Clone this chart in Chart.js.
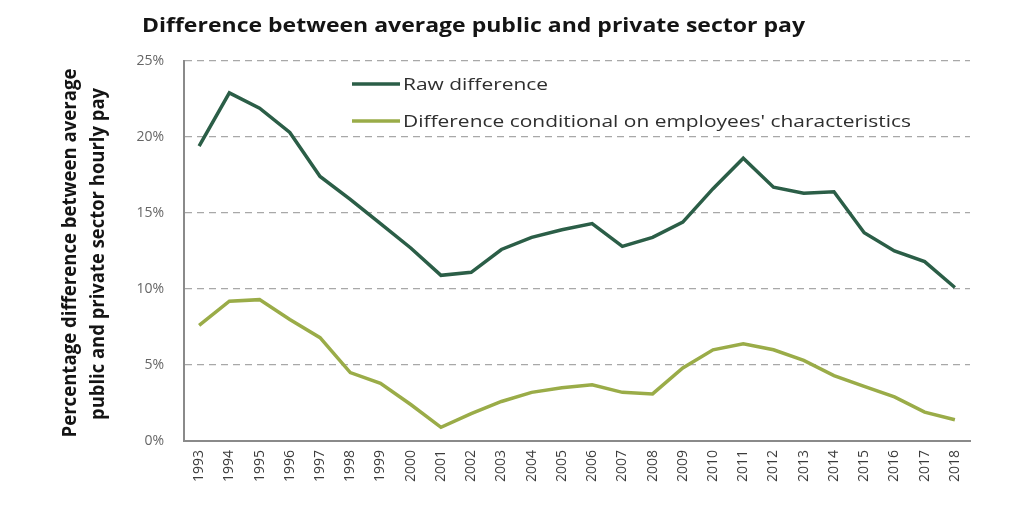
<!DOCTYPE html>
<html>
<head>
<meta charset="utf-8">
<script src="https://cdn.jsdelivr.net/npm/chart.js@4/dist/chart.umd.min.js"></script>
<style>
  html, body { margin: 0; padding: 0; background: #ffffff; }
  #wrap { width: 1024px; height: 512px; }
</style>
</head>
<body>
<div id="wrap"><canvas id="c" width="1024" height="512"></canvas></div>
<script>
const years = ['1993','1994','1995','1996','1997','1998','1999','2000','2001','2002','2003','2004','2005','2006','2007','2008','2009','2010','2011','2012','2013','2014','2015','2016','2017','2018'];
const rawDifference = [19.4, 22.9, 21.9, 20.3, 17.4, 15.9, 14.3, 12.7, 10.9, 11.1, 12.6, 13.4, 13.9, 14.3, 12.8, 13.4, 14.4, 16.6, 18.6, 16.7, 16.3, 16.4, 13.7, 12.5, 11.8, 10.1];
const conditionalDifference = [7.6, 9.2, 9.3, 8.0, 6.8, 4.5, 3.8, 2.4, 0.9, 1.8, 2.6, 3.2, 3.5, 3.7, 3.2, 3.1, 4.8, 6.0, 6.4, 6.0, 5.3, 4.3, 3.6, 2.9, 1.9, 1.4];
const seriesLabels = ['Raw difference', "Difference conditional on employees' characteristics"];
const yTickValues = [0, 5, 10, 15, 20, 25];
const chartTitle = 'Difference between average public and private sector pay';
const yTitleLines = ['Percentage difference between average', 'public and private sector hourly pay'];

function fitText(ctx, text, x, y, target) {
  const w = ctx.measureText(text).width;
  const sx = target ? target / w : 1;
  ctx.save();
  ctx.translate(x, y);
  ctx.scale(sx, 1);
  ctx.fillText(text, 0, 0);
  ctx.restore();
}

const textPlugin = {
  id: 'textPlugin',
  afterDraw(chart) {
    const ctx = chart.ctx;
    // Title
    ctx.save();
    ctx.fillStyle = '#141414';
    ctx.font = 'bold 19px "Open Sans"';
    ctx.textAlign = 'left';
    ctx.textBaseline = 'alphabetic';
    fitText(ctx, chartTitle, 142, 32, 663);
    ctx.restore();

    // Y axis title (two rotated lines)
    ctx.save();
    ctx.fillStyle = '#141414';
    ctx.font = 'bold 19px "Open Sans"';
    ctx.textAlign = 'center';
    ctx.textBaseline = 'alphabetic';
    const yt = [[76, 253, 369], [104, 254, 332]];
    yTitleLines.forEach((line, i) => {
      ctx.save();
      ctx.translate(yt[i][0], yt[i][1]);
      ctx.rotate(-Math.PI / 2);
      const w = ctx.measureText(line).width;
      ctx.scale(yt[i][2] / w, 1);
      ctx.fillText(line, 0, 0);
      ctx.restore();
    });
    ctx.restore();

    // Legend inside plot area
    ctx.save();
    ctx.font = '17px "Open Sans"';
    ctx.textAlign = 'left';
    ctx.textBaseline = 'middle';
    const longW = ctx.measureText(chart.data.datasets[1].label).width;
    const sx = 508 / longW;
    const rowsY = [84, 121];
    chart.data.datasets.forEach((ds, i) => {
      const y = rowsY[i];
      ctx.strokeStyle = ds.borderColor;
      ctx.lineWidth = 3.5;
      ctx.beginPath();
      ctx.moveTo(352, y);
      ctx.lineTo(400, y);
      ctx.stroke();
      ctx.fillStyle = '#2e2e2e';
      ctx.save();
      ctx.translate(403, y + 1);
      ctx.scale(sx, 1);
      ctx.fillText(ds.label, 0, 0);
      ctx.restore();
    });
    ctx.restore();
  }
};

new Chart(document.getElementById('c'), {
  type: 'line',
  data: {
    labels: years,
    datasets: [
      { label: seriesLabels[0], data: rawDifference, borderColor: '#2b5e47', backgroundColor: '#2b5e47', borderWidth: 3.5, pointRadius: 0, tension: 0, fill: false },
      { label: seriesLabels[1], data: conditionalDifference, borderColor: '#9aac48', backgroundColor: '#9aac48', borderWidth: 3.5, pointRadius: 0, tension: 0, fill: false }
    ]
  },
  options: {
    responsive: false,
    animation: false,
    layout: { padding: { left: 0, top: 61, right: 54, bottom: 0 } },
    plugins: { legend: { display: false }, title: { display: false }, tooltip: { enabled: false } },
    scales: {
      x: {
        type: 'category',
        offset: true,
        grid: { display: false, drawTicks: false },
        border: { display: true, color: '#8a8a8a', width: 2 },
        ticks: { minRotation: 90, maxRotation: 90, autoSkip: false, color: '#3c3c3c', font: { family: 'Open Sans', size: 14 }, padding: 9 },
        afterFit: s => { s.height = 71; }
      },
      y: {
        min: 0, max: 25,
        afterBuildTicks: s => { s.ticks = yTickValues.map(v => ({ value: v })); },
        ticks: { color: '#666666', font: { family: 'Open Sans', size: 14 }, padding: 20, callback: v => v + '%' },
        grid: { color: '#a8a8a8', lineWidth: 1.3, drawTicks: false },
        border: { display: true, color: '#8a8a8a', width: 2, dash: [7, 5] },
        afterFit: s => { s.width = 184; }
      }
    }
  },
  plugins: [textPlugin]
});
</script>
</body>
</html>
